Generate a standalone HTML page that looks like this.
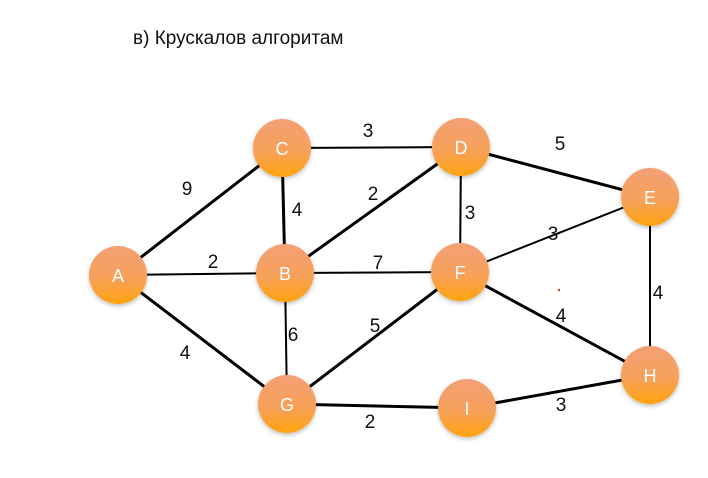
<!DOCTYPE html>
<html><head><meta charset="utf-8"><style>
body{margin:0;background:#fff;width:708px;height:473px;overflow:hidden;font-family:"Liberation Sans",sans-serif}
</style></head><body>
<svg width="708" height="473" viewBox="0 0 708 473" xmlns="http://www.w3.org/2000/svg">
<defs>
<linearGradient id="g" x1="0" y1="0" x2="0" y2="1">
<stop offset="0" stop-color="#f3a075"/><stop offset="0.55" stop-color="#f7a15a"/><stop offset="1" stop-color="#ffa20e"/>
</linearGradient>
<filter id="s" x="-30%" y="-30%" width="160%" height="160%"><feDropShadow dx="0" dy="2" stdDeviation="2" flood-color="#000" flood-opacity="0.25"/></filter>
</defs>
<text x="133" y="44" font-size="19" fill="#111" font-family="Liberation Sans, DejaVu Sans, sans-serif">в) Крускалов алгоритам</text>
<g id="edges" stroke="#000"></g>
<g id="labels" font-size="19" fill="#111"></g>
<g id="nodes"></g>
<circle cx="559" cy="290" r="1.2" fill="#e03020"/>
</svg>
<script>
const nodeNames=['A','B','C','D','E','F','G','H','I'];
const nodeX=[118,285,282,461,650,460,287,650,467];
const nodeY=[275,273,148,147,197,272,404,375,408];
const edgeFrom=['A','C','B','D','A','G','G','I','F','C','B','D','A','B','F','E'];
const edgeTo=['C','B','D','E','G','F','I','H','H','D','F','F','B','G','E','H'];
const edgeWeights=[9,4,2,5,4,5,2,3,4,3,7,3,2,6,3,4];
const edgeThick=[1,1,1,1,1,1,1,1,1,0,0,0,0,0,0,0];
const labelX=[187,297,373,560,185,375,370,561,561,368,378,470,213,293,553,658];
const labelY=[195,216,200,150,359,332,428,411,322,137,269,219,268,341,240,299];
const NS='http://www.w3.org/2000/svg';
const idx=n=>nodeNames.indexOf(n);
const eg=document.getElementById('edges'),lg=document.getElementById('labels'),ng=document.getElementById('nodes');
edgeFrom.forEach((f,i)=>{
 const a=idx(f),b=idx(edgeTo[i]);
 const l=document.createElementNS(NS,'line');
 l.setAttribute('x1',nodeX[a]);l.setAttribute('y1',nodeY[a]);l.setAttribute('x2',nodeX[b]);l.setAttribute('y2',nodeY[b]);
 l.setAttribute('stroke-width',edgeThick[i]?3:2);
 
 
 eg.appendChild(l);
 const t=document.createElementNS(NS,'text');
 t.setAttribute('x',labelX[i]);t.setAttribute('y',labelY[i]);t.setAttribute('text-anchor','middle');
 t.textContent=edgeWeights[i];
 
 
 lg.appendChild(t);
});
nodeNames.forEach((n,i)=>{
 const g=document.createElementNS(NS,'g');
 
 
 const c=document.createElementNS(NS,'circle');
 c.setAttribute('cx',nodeX[i]);c.setAttribute('cy',nodeY[i]);c.setAttribute('r',29);
 c.setAttribute('fill','url(#g)');c.setAttribute('filter','url(#s)');
 const t=document.createElementNS(NS,'text');
 t.setAttribute('x',nodeX[i]);t.setAttribute('y',nodeY[i]+7);t.setAttribute('text-anchor','middle');
 t.setAttribute('font-size','18');t.setAttribute('fill','#fff');t.textContent=n;
 g.appendChild(c);g.appendChild(t);ng.appendChild(g);
});
</script>
</body></html>
